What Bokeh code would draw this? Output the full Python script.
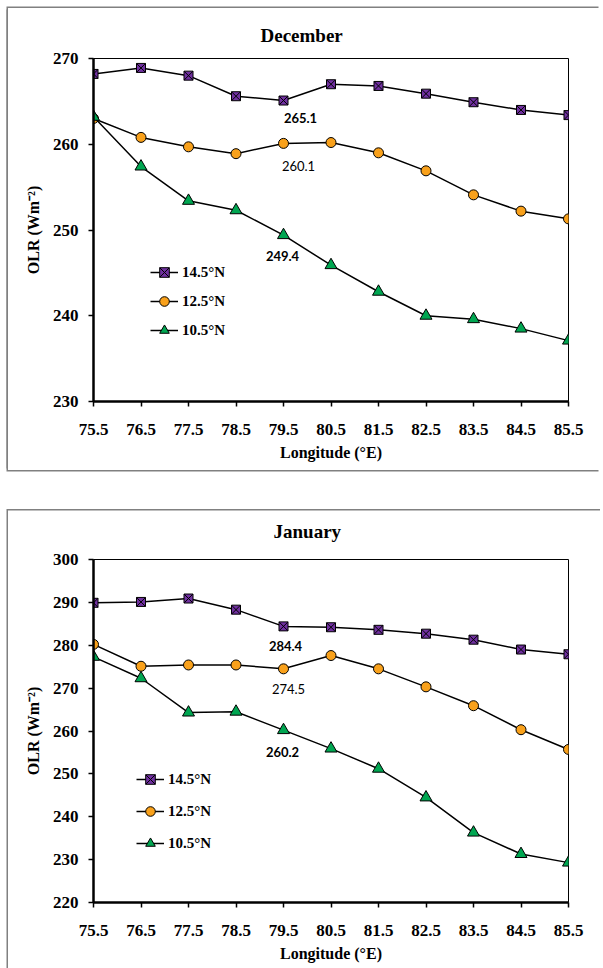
from bokeh.plotting import figure
from bokeh.layouts import column, row
from bokeh.models import FixedTicker, Legend, LegendItem, Label, Title, Spacer
from bokeh.embed import file_html
from bokeh.resources import INLINE

longitude = [75.5, 76.5, 77.5, 78.5, 79.5, 80.5, 81.5, 82.5, 83.5, 84.5, 85.5]
series_names = ["14.5°N", "12.5°N", "10.5°N"]

dec_14 = [268.2, 268.9, 268.0, 265.6, 265.1, 267.0, 266.8, 265.9, 264.9, 264.0, 263.4]
dec_12 = [263.0, 260.8, 259.7, 258.9, 260.1, 260.2, 259.0, 256.9, 254.1, 252.2, 251.3]
dec_10 = [263.2, 257.4, 253.4, 252.3, 249.4, 245.9, 242.8, 240.0, 239.6, 238.5, 237.1]

jan_14 = [289.9, 290.1, 290.9, 288.3, 284.4, 284.2, 283.6, 282.7, 281.3, 279.0, 277.9]
jan_12 = [280.2, 275.1, 275.4, 275.4, 274.5, 277.6, 274.5, 270.3, 265.9, 260.3, 255.7]
jan_10 = [277.3, 272.3, 264.3, 264.5, 260.2, 255.9, 251.2, 244.5, 236.3, 231.3, 229.3]

dec_yticks = [230, 240, 250, 260, 270]
jan_yticks = [220, 230, 240, 250, 260, 270, 280, 290, 300]

SERIF = "'Liberation Serif'"
STYLES = [
    dict(marker="square_x", fill="#7030A0", size=9),
    dict(marker="circle", fill="#F9A11B", size=10),
    dict(marker="triangle", fill="#00A651", size=12),
]


def make_panel(title, title_offset, title_standoff, series, yr, yticks, height,
               top_border, bottom_border, legend_loc, legend_spacing, ann_offsets,
               shadow):
    p = figure(width=592, height=height, output_backend="svg", toolbar_location=None,
               x_range=(longitude[0], longitude[-1]), y_range=yr,
               min_border_left=85, min_border_right=32, min_border_top=top_border,
               min_border_bottom=bottom_border)
    p.title = None
    p.add_layout(Title(text=title, align="left", offset=title_offset, text_font=SERIF,
                       text_font_size="19px", text_font_style="bold",
                       text_color="black", standoff=title_standoff), "above")
    p.styles = {"box-shadow": shadow}
    p.grid.visible = False
    p.outline_line_color = "black"
    p.outline_line_width = 1
    p.background_fill_color = "white"
    p.border_fill_alpha = 0

    for ax in (p.xaxis[0], p.yaxis[0]):
        ax.axis_line_width = 2.5
        ax.axis_line_color = "black"
        ax.major_tick_line_width = 1.5
        ax.major_tick_line_color = "black"
        ax.major_tick_in = 0
        ax.major_tick_out = 5
        ax.minor_tick_line_color = None
        ax.major_label_text_font = SERIF
        ax.major_label_text_font_size = "17px"
        ax.major_label_text_font_style = "bold"
        ax.major_label_text_color = "black"
        ax.axis_label_text_font = SERIF
        ax.axis_label_text_font_size = "16px"
        ax.axis_label_text_font_style = "bold"
        ax.axis_label_text_color = "black"

    p.xaxis.ticker = FixedTicker(ticks=longitude)
    p.xaxis.major_label_standoff = 17
    p.xaxis.axis_label = "Longitude (°E)"
    p.xaxis.axis_label_standoff = 6
    p.yaxis.ticker = FixedTicker(ticks=yticks)
    p.yaxis.major_label_standoff = 10
    p.yaxis.axis_label = "OLR (Wm⁻²)"
    p.yaxis.axis_label_standoff = 8

    items = []
    for name, vals, st in zip(series_names, series, STYLES):
        ln = p.line(longitude, vals, line_color="black", line_width=1.5)
        sc = p.scatter(longitude, vals, marker=st["marker"], size=st["size"],
                       fill_color=st["fill"], line_color="black", line_width=1)
        items.append(LegendItem(label=name, renderers=[ln, sc]))

    leg = Legend(items=items, location=legend_loc, glyph_width=28, glyph_height=24,
                 label_height=24, spacing=legend_spacing, label_standoff=4,
                 padding=0, margin=0, border_line_color=None,
                 background_fill_alpha=0, label_text_font=SERIF,
                 label_text_font_size="15px", label_text_font_style="bold",
                 label_text_color="black")
    p.add_layout(leg, "center")

    idx = 4
    bolds = ["bold", "normal", "bold"]
    for vals, (dx, dy), style in zip(series, ann_offsets, bolds):
        lab = Label(x=longitude[idx], y=vals[idx], text=f"{vals[idx]:.1f}",
                    x_offset=dx, y_offset=dy, text_align="center",
                    text_baseline="middle", text_font="Lato",
                    text_font_size="13px", text_font_style=style,
                    text_color="black")
        p.add_layout(lab)
    return p


p1 = make_panel("December", 167, 26, [dec_14, dec_12, dec_10], (230, 270), dec_yticks,
                462, 50, 69, (57, 59), 5, [(17, -17), (15, -23), (-1, -21)],
                "-1.5px -1.5px 0 0 #808080, -1.5px 1.5px 0 0 #808080")
p2 = make_panel("January", 180, 35, [jan_14, jan_12, jan_10], (220, 300), jan_yticks,
                468, 59, 66, (43, 47), 8, [(2, -20), (5, -20), (-1, -22)],
                "inset 0 9px 0 0 #ffffff, inset 0 10.5px 0 0 #808080, "
                "-1.5px 9px 0 0 #808080")

layout = column(
    Spacer(width=600, height=8),
    row(Spacer(width=8, height=462), p1),
    Spacer(width=600, height=30),
    row(Spacer(width=8, height=468), p2),
)

open("out.html", "w").write(file_html(layout, INLINE))
